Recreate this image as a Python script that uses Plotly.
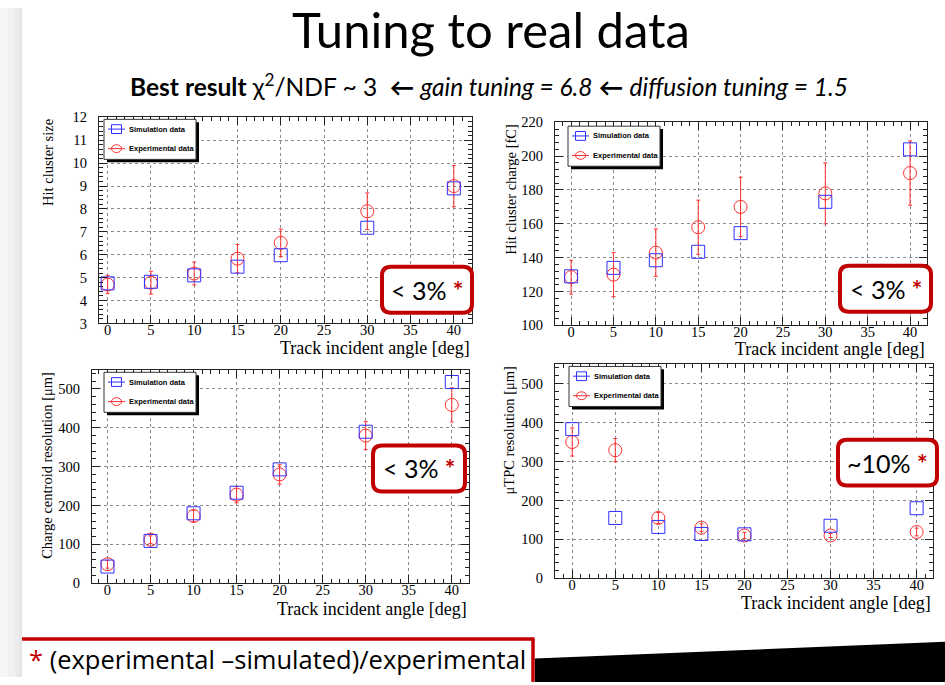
import plotly.graph_objects as go

W, H = 945, 685

angles = [0, 5, 10, 15, 20, 30, 40]

size_sim = [4.75, 4.82, 5.10, 5.48, 5.98, 7.18, 8.90]
size_exp = [4.70, 4.78, 5.18, 5.83, 6.52, 7.90, 9.00]
size_err = [0.40, 0.50, 0.50, 0.62, 0.60, 0.80, 0.90]

charge_sim = [129, 134, 138.5, 143.5, 154.5, 173, 204]
charge_exp = [128.5, 130, 143, 158, 170, 178, 190]
charge_err = [10, 13, 14, 16, 17.5, 18, 19]

centroid_sim = [43, 109, 180, 233, 293, 390, 518]
centroid_exp = [49, 112, 173, 228, 280, 380, 459]
centroid_err = [10, 10, 15, 21, 25, 36, 44]

utpc_sim = [383, 155, 132, 114, 113, 135, 180]
utpc_exp = [350, 329, 155, 130, 110, 110, 119]
utpc_err = [36, 30, 14, 10, 8, 5, 10]

legend_names = ["Simulation data", "Experimental data"]

panels = [
    dict(sim=size_sim, exp=size_exp, err=size_err, ytitle="Hit cluster size",
         box=(99, 112, 472, 323), xr=[-1.0, 42.1], yr=[3, 12], dt=1, mdt=0.2,
         leg=(104, 114), ytx=48, xty=348, note=(382, 265, 472, 312), ntext="< 3%"),
    dict(sim=charge_sim, exp=charge_exp, err=charge_err, ytitle="Hit cluster charge [fC]",
         box=(555, 117, 927, 325), xr=[-1.9, 42.0], yr=[100, 220], dt=20, mdt=4,
         leg=(568, 121), ytx=511, xty=349, note=(840, 264, 931, 311), ntext="< 3%"),
    dict(sim=centroid_sim, exp=centroid_exp, err=centroid_err, ytitle="Charge centroid resolution [\u03bcm]",
         box=(92, 371, 469, 589), xr=[-1.8, 42.0], yr=[0, 548], dt=100, mdt=20,
         leg=(104, 373), ytx=47, xty=615, note=(373, 448, 465, 495), ntext="< 3%"),
    dict(sim=utpc_sim, exp=utpc_exp, err=utpc_err, ytitle="\u03bcTPC resolution [\u03bcm]",
         box=(555, 365, 933, 584), xr=[-2.0, 41.9], yr=[0, 549], dt=100, mdt=20,
         leg=(569, 367), ytx=509, xty=609, note=(838, 442, 937, 489), ntext="~10%"),
]

BLUE = "#2f2fff"
RED = "#ff3030"
DRED = "#c00000"
SERIF = "Liberation Serif"


def px(x):
    return x / W


def py(y):
    return 1 - y / H


fig = go.Figure()
shapes = []
annotations = []
layout = {}

for i, p in enumerate(panels, start=1):
    sx = "" if i == 1 else str(i)
    xa, ya = "x" + sx, "y" + sx
    x0, y0, x1, y1 = p["box"]

    fig.add_trace(go.Scatter(
        x=angles, y=p["exp"], mode="markers", xaxis=xa, yaxis=ya, showlegend=False,
        name=legend_names[1],
        marker=dict(symbol="circle-open", size=13, color=RED, line=dict(width=1, color=RED)),
        error_y=dict(type="data", array=p["err"], color=RED, thickness=1, width=2),
    ))
    fig.add_trace(go.Scatter(
        x=angles, y=p["sim"], mode="markers", xaxis=xa, yaxis=ya, showlegend=False,
        name=legend_names[0],
        marker=dict(symbol="square-open", size=13, color=BLUE, line=dict(width=1, color=BLUE)),
    ))

    common = dict(showline=True, linecolor="#222", linewidth=1, mirror="ticks",
                  ticks="inside", ticklen=8, tickcolor="#222", showgrid=True,
                  gridcolor="#8a8a8a", griddash="dot", gridwidth=1, zeroline=False,
                  tickfont=dict(family=SERIF, size=14.5, color="black"))
    layout["xaxis" + sx] = dict(common, domain=[px(x0), px(x1)], range=p["xr"], anchor=ya,
                                tickvals=[0, 5, 10, 15, 20, 25, 30, 35, 40],
                                ticklabelstandoff=-7,
                                minor=dict(dtick=1, tick0=0, ticks="inside", ticklen=4,
                                           tickcolor="#222", showgrid=False))
    layout["yaxis" + sx] = dict(common, domain=[py(y1), py(y0)], range=p["yr"], anchor=xa,
                                dtick=p["dt"], tick0=0, ticklabelstandoff=8,
                                minor=dict(dtick=p["mdt"], ticks="inside", ticklen=4,
                                           tickcolor="#222", showgrid=False))

    # hand-drawn ROOT-style legend box with drop shadow
    lx, ly = p["leg"]
    lw, lh = 92, 41
    shapes.append(dict(type="rect", xref="paper", yref="paper", layer="above",
                       x0=px(lx + 3), x1=px(lx + lw + 3), y0=py(ly + 3), y1=py(ly + lh + 3),
                       fillcolor="black", line=dict(width=0)))
    shapes.append(dict(type="rect", xref="paper", yref="paper", layer="above",
                       x0=px(lx), x1=px(lx + lw), y0=py(ly), y1=py(ly + lh),
                       fillcolor="white", line=dict(color="#333", width=1)))
    for k, (col, kind) in enumerate([(BLUE, "rect"), (RED, "circle")]):
        yy = ly + 10 + 20 * k
        shapes.append(dict(type="line", xref="paper", yref="paper", layer="above",
                           x0=px(lx + 4), x1=px(lx + 21), y0=py(yy), y1=py(yy),
                           line=dict(color=col, width=1)))
        hh = 4.5 if kind == "rect" else 4
        shapes.append(dict(type=kind, xref="paper", yref="paper", layer="above",
                           x0=px(lx + 12.5 - 5), x1=px(lx + 12.5 + 5), y0=py(yy - hh), y1=py(yy + hh),
                           line=dict(color=col, width=1)))
        annotations.append(dict(text="<b>" + legend_names[k] + "</b>", xref="paper", yref="paper",
                                x=px(lx + 23), y=py(yy), xanchor="left", yanchor="middle",
                                showarrow=False,
                                font=dict(family="Liberation Sans", size=7.5, color="black")))

    annotations.append(dict(text=p["ytitle"], textangle=-90, xref="paper", yref="paper",
                            x=px(p["ytx"]), y=py(y0), xanchor="center", yanchor="top",
                            showarrow=False, font=dict(family=SERIF, size=14.5, color="black")))
    annotations.append(dict(text="Track incident angle [deg]", xref="paper", yref="paper",
                            x=px(x1), y=py(p["xty"]), xanchor="right", yanchor="middle",
                            showarrow=False, font=dict(family=SERIF, size=18, color="black")))

    # rounded red note box
    nx0, ny0, nx1, ny1 = p["note"]
    r = 9
    path = (f"M {px(nx0 + r)},{py(ny0)} L {px(nx1 - r)},{py(ny0)} Q {px(nx1)},{py(ny0)} {px(nx1)},{py(ny0 + r)} "
            f"L {px(nx1)},{py(ny1 - r)} Q {px(nx1)},{py(ny1)} {px(nx1 - r)},{py(ny1)} "
            f"L {px(nx0 + r)},{py(ny1)} Q {px(nx0)},{py(ny1)} {px(nx0)},{py(ny1 - r)} "
            f"L {px(nx0)},{py(ny0 + r)} Q {px(nx0)},{py(ny0)} {px(nx0 + r)},{py(ny0)} Z")
    shapes.append(dict(type="path", path=path, xref="paper", yref="paper", layer="above",
                       fillcolor="white", line=dict(color=DRED, width=4)))
    annotations.append(dict(text=p["ntext"] + f" <span style='color:{DRED}'><b>*</b></span>",
                            xref="paper", yref="paper", x=px((nx0 + nx1) / 2), y=py((ny0 + ny1) / 2),
                            xanchor="center", yanchor="middle", showarrow=False,
                            font=dict(family="Lato", size=25, color="black")))

# left shadow strip
for (a, b, c) in [(0, 8, "#f6f6f6"), (8, 15, "#f1f1f1"), (15, 19, "#ebebeb"), (19, 22, "#e6e6e6")]:
    shapes.append(dict(type="rect", xref="paper", yref="paper", layer="below",
                       x0=px(a), x1=px(b), y0=0, y1=1, fillcolor=c, line=dict(width=0)))

# bottom footer: red box edges and black wedge
shapes.append(dict(type="line", xref="paper", yref="paper", x0=px(22), x1=px(534.5), y0=py(646), y1=py(646),
                   line=dict(color=DRED, width=3.5)))
shapes.append(dict(type="line", xref="paper", yref="paper", x0=px(533), x1=px(533), y0=py(646), y1=py(690),
                   line=dict(color=DRED, width=3.5)))
shapes.append(dict(type="path", xref="paper", yref="paper",
                   path=f"M {px(535)},{py(666)} L {px(945)},{py(649)} L {px(945)},{py(690)} L {px(535)},{py(690)} Z",
                   fillcolor="black", line=dict(width=0)))

annotations.append(dict(text=f"<span style='color:{DRED}'>*</span> (experimental \u2013simulated)/experimental",
                        xref="paper", yref="paper", x=px(27), y=py(667), xanchor="left", yanchor="middle",
                        showarrow=False, font=dict(family="Open Sans", size=25.5, color="black")))

annotations.append(dict(text="Tuning to real data", xref="paper", yref="paper", x=px(491), y=py(21),
                        xanchor="center", yanchor="middle", showarrow=False,
                        font=dict(family="Lato", size=49, color="black")))
annotations.append(dict(text="<b>Best result</b> \u03c7<sup>2</sup>/NDF ~ 3  <b>\u2190</b> <i>gain tuning = 6.8</i> "
                             "<b>\u2190</b> <i>diffusion tuning = 1.5</i>",
                        xref="paper", yref="paper", x=px(489), y=py(79),
                        xanchor="center", yanchor="middle", showarrow=False,
                        font=dict(family="Lato", size=24.5, color="black")))

fig.update_layout(width=W, height=H, margin=dict(l=0, r=0, t=0, b=0),
                  paper_bgcolor="white", plot_bgcolor="white", showlegend=False,
                  shapes=shapes, annotations=annotations, **layout)

fig.write_html("out.html")
